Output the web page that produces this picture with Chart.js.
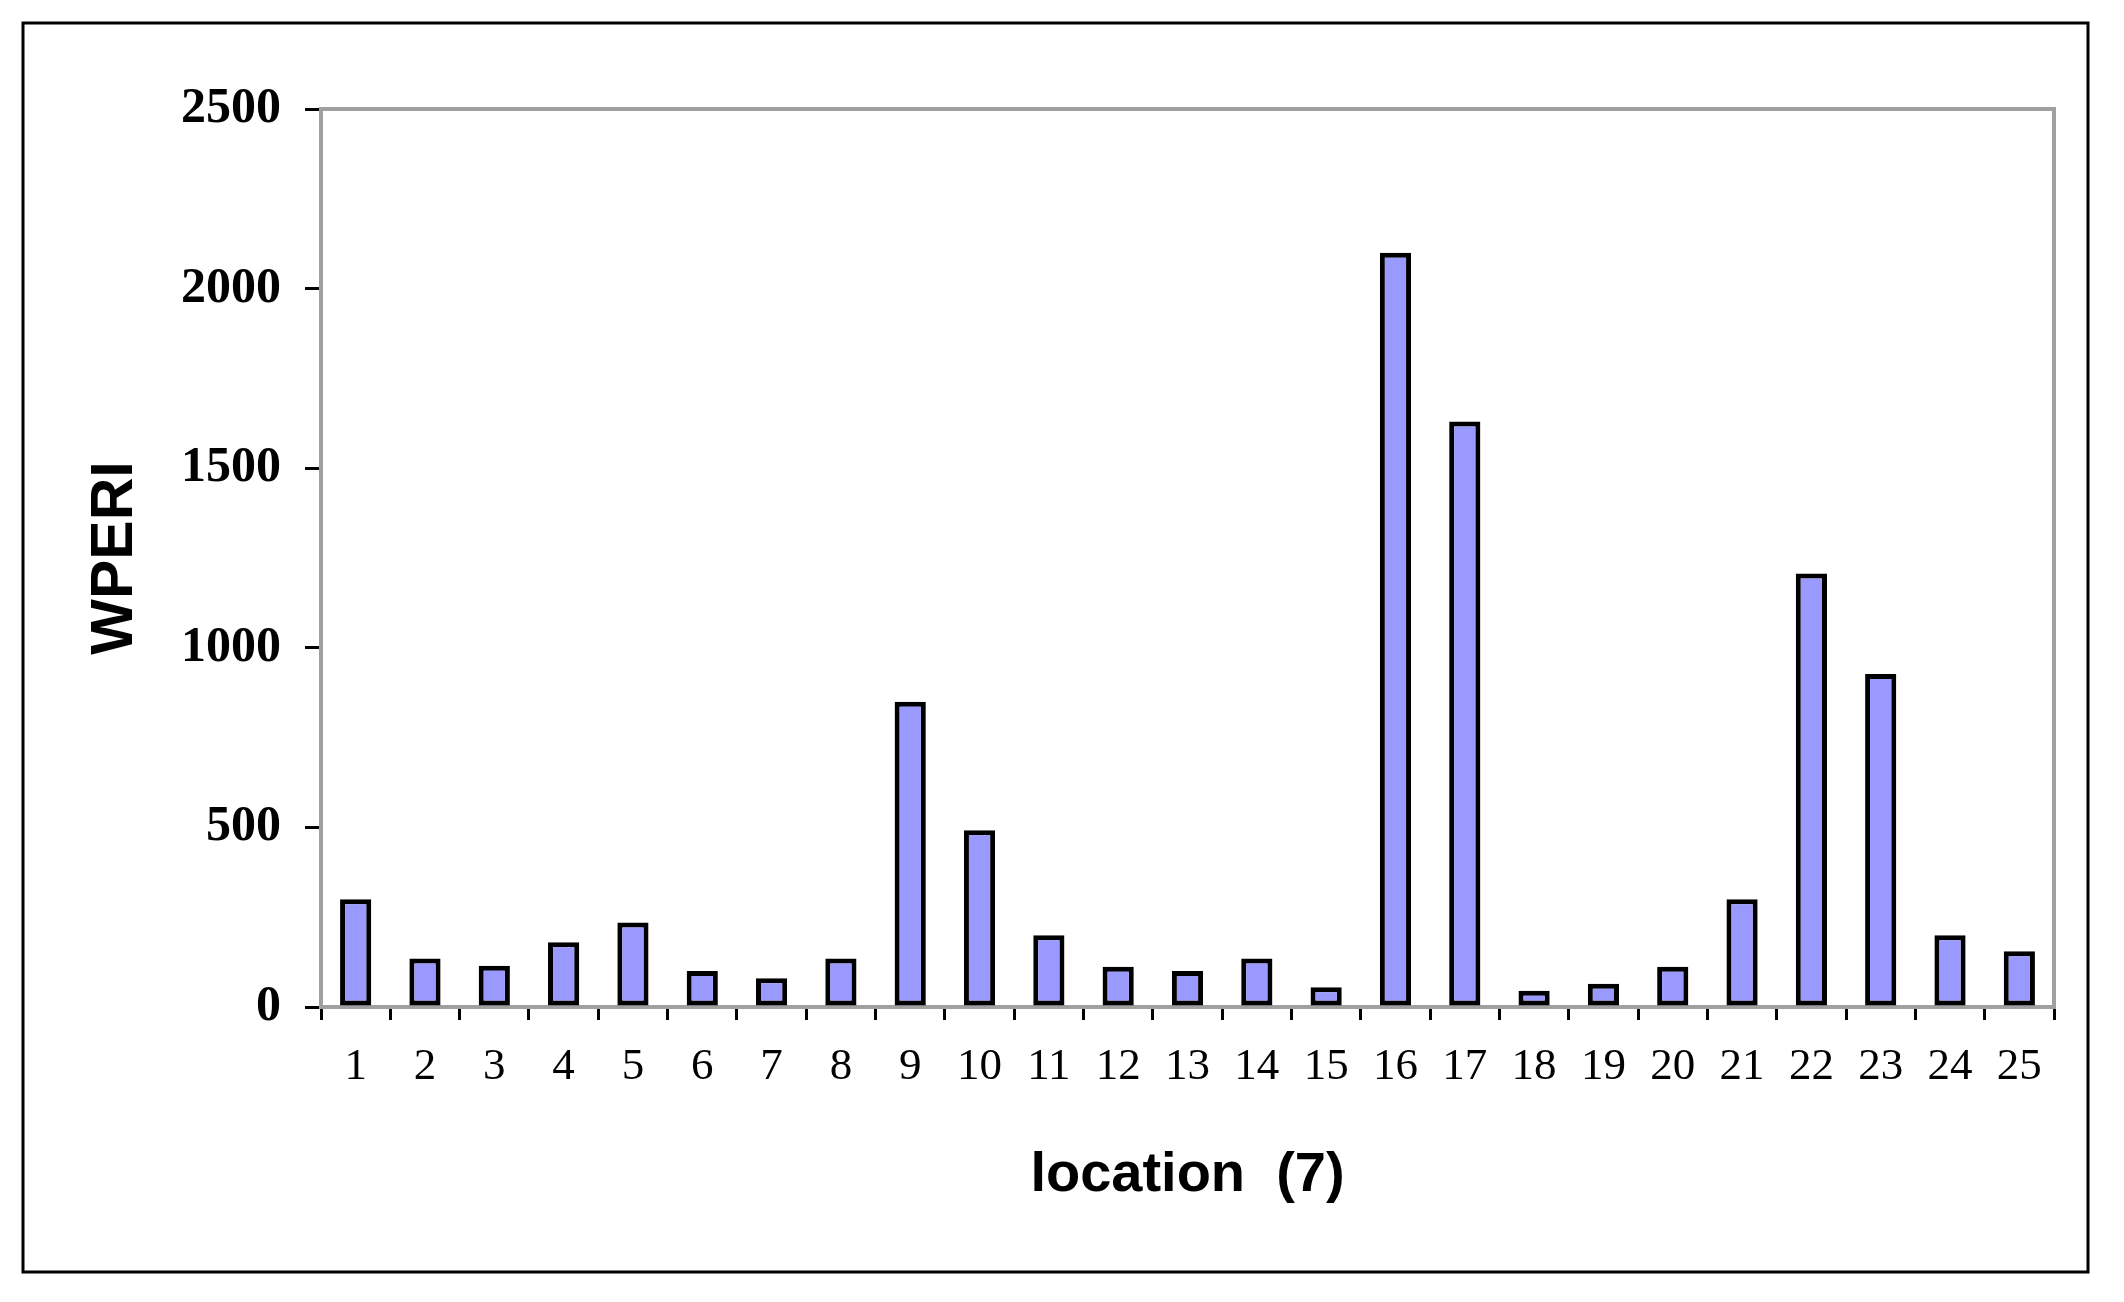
<!DOCTYPE html>
<html>
<head>
<meta charset="utf-8">
<script src="https://cdn.jsdelivr.net/npm/chart.js@4/dist/chart.umd.min.js"></script>
<style>
  body { margin: 0; background: #fff; }
  canvas { display: block; }
</style>
</head>
<body>
<canvas id="wperiChart" width="2124" height="1302"></canvas>
<script>
var locations = ['1', '2', '3', '4', '5', '6', '7', '8', '9', '10', '11', '12', '13',
  '14', '15', '16', '17', '18', '19', '20', '21', '22', '23', '24', '25'];
var wperiValues = [300, 135, 115, 180, 235, 100, 80, 135, 850, 492, 200, 112, 100,
  135, 55, 2100, 1630, 45, 65, 112, 300, 1207, 927, 200, 155];
var yTicks = [0, 500, 1000, 1500, 2000, 2500];

var ctx = document.getElementById('wperiChart').getContext('2d');

// outer frame + grey plot area border
var framePlugin = {
  id: 'frame',
  beforeDraw: function(chart) {
    var c = chart.ctx;
    c.save();
    c.fillStyle = '#fff';
    c.fillRect(0, 0, chart.width, chart.height);
    c.strokeStyle = '#000';
    c.lineWidth = 3;
    c.strokeRect(23, 23, 2065, 1249);
    c.restore();
  },
  beforeDatasetsDraw: function(chart) {
    var a = chart.chartArea;
    var c = chart.ctx;
    c.save();
    c.strokeStyle = '#a0a0a0';
    c.lineWidth = 4;
    c.strokeRect(a.left, a.top, a.right - a.left, a.bottom - a.top);
    c.restore();
  }
};

var wperiChart = new Chart(ctx, {
  type: 'bar',
  data: {
    labels: locations,
    datasets: [{
      label: 'WPERI',
      data: wperiValues,
      backgroundColor: '#9999ff',
      borderColor: '#000',
      borderWidth: 5,
      borderSkipped: false,
      barPercentage: 0.45,
      categoryPercentage: 1
    }]
  },
  options: {
    responsive: false,
    animation: false,
    layout: { padding: { top: 109, right: 70, bottom: 0, left: 0 } },
    plugins: {
      legend: { display: false },
      tooltip: { enabled: false }
    },
    scales: {
      x: {
        afterFit: function(scale) { scale.height = 295; },
        border: { color: '#a0a0a0', width: 4 },
        grid: { drawOnChartArea: false, color: '#000', lineWidth: 3, tickLength: 13, offset: true },
        ticks: {
          color: '#000',
          padding: 20,
          maxRotation: 0,
          autoSkip: false,
          font: { family: '"Liberation Serif", "Times New Roman", serif', size: 45 }
        },
        title: {
          display: true,
          text: 'location  (7)',
          color: '#000',
          padding: { top: 0, bottom: 93 },
          font: { family: '"Liberation Sans", Arial, sans-serif', size: 56, weight: 'bold' }
        }
      },
      y: {
        min: 0,
        max: 2500,
        afterFit: function(scale) { scale.width = 321; },
        afterBuildTicks: function(scale) {
          scale.ticks = yTicks.map(function(v) { return { value: v }; });
        },
        border: { color: '#000', width: 3 },
        grid: { drawOnChartArea: false, color: '#000', lineWidth: 3, tickLength: 16 },
        ticks: {
          color: '#000',
          padding: 24,
          callback: function(value) { return String(value); },
          font: { family: '"Liberation Serif", "Times New Roman", serif', size: 50, weight: 'bold' }
        },
        title: {
          display: true,
          text: 'WPERI',
          color: '#000',
          padding: { top: 80, bottom: 0 },
          font: { family: '"Liberation Sans", Arial, sans-serif', size: 59, weight: 'bold' }
        }
      }
    }
  },
  plugins: [framePlugin]
});
</script>
</body>
</html>
